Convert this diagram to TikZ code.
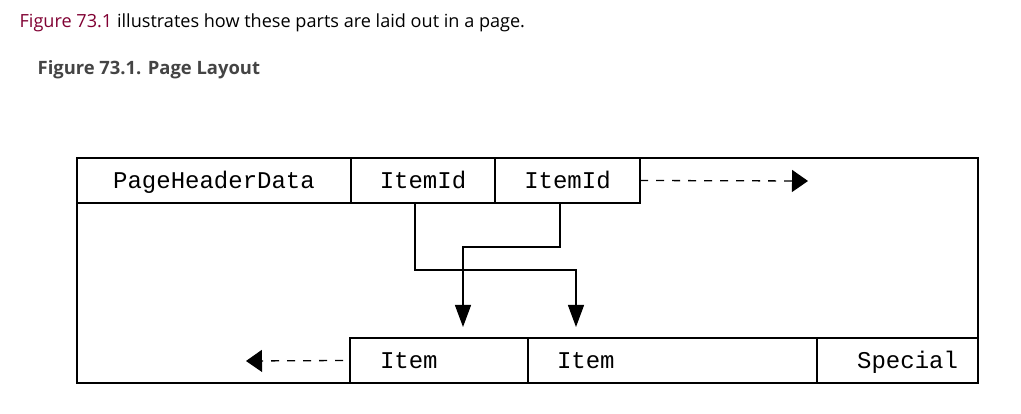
\documentclass[tikz,border=0pt]{standalone}
\usepackage{fontspec}
\setmainfont{Open Sans}
\newfontfamily\cellfont{Liberation Mono}
\usetikzlibrary{positioning,arrows.meta,calc}
\definecolor{linkred}{RGB}{128,0,50}
\definecolor{captiongray}{RGB}{68,68,68}

\begin{document}
\begin{tikzpicture}[
      x=1pt, y=1pt,
      >={Triangle[length=22pt,width=16pt]},
      line width=1.3pt
    ]

    \tikzstyle{cell} = [rectangle, draw=black, minimum height=45pt, inner sep=0pt, outer sep=0pt, text height=20pt, text depth=4.4pt, font=\cellfont\fontsize{24}{24}\selectfont]

    \tikzstyle{dasharrow} = [dash pattern=on 8pt off 8pt, -{Triangle[length=16pt,width=22pt]}]

    \useasboundingbox (0,0) rectangle (1021,-414);

    \node [anchor=base west, inner sep=0pt, font=\fontsize{18.1}{18}\selectfont] (intro) at (19,-28) {\textcolor{linkred}{Figure 73.1} illustrates how these parts are laid out in a page.};
    \node [anchor=base west, inner sep=0pt, font=\bfseries\fontsize{18.4}{18}\selectfont, text=captiongray] (caption) at (37,-75) {Figure 73.1. Page Layout};

    \node [rectangle, draw, outer sep=0pt, minimum width=901pt, minimum height=225pt, anchor=north west] (page) at (77,-158) {};

    \node [cell, minimum width=274pt, anchor=north west] (header) at (page.north west) {PageHeaderData};
    \node [cell, minimum width=144pt, right=0pt of header] (itemIdA) {ItemId};
    \node [cell, minimum width=145pt, right=0pt of itemIdA] (itemIdB) {ItemId};

    \node [cell, anchor=south east, align=right, inner xsep=20pt, text width=121pt] (special) at (page.south east) {Special};
    \node [cell, left=0pt of special, align=left, inner xsep=29pt, text width=231pt] (itemB) {Item};
    \node [cell, left=0pt of itemB, align=left, inner xsep=30pt, text width=118pt] (itemA) {Item};

    \coordinate (moreIds) at (808,-181);
    \coordinate (moreItems) at (246,-361);

    \draw [dasharrow] (itemIdB.east) -- (moreIds);
    \draw [dasharrow] ([xshift=-7pt]itemA.west) -- (moreItems);

    \draw [->, shorten >=11pt] ([xshift=-8pt]itemIdA.south) -- ++(0,-67) -| ([xshift=48pt]itemB.north west);
    \draw [->, shorten >=11pt] ([xshift=-7.5pt]itemIdB.south) -- ++(0,-44) -| ([xshift=113pt]itemA.north west);

\end{tikzpicture}
\end{document}
